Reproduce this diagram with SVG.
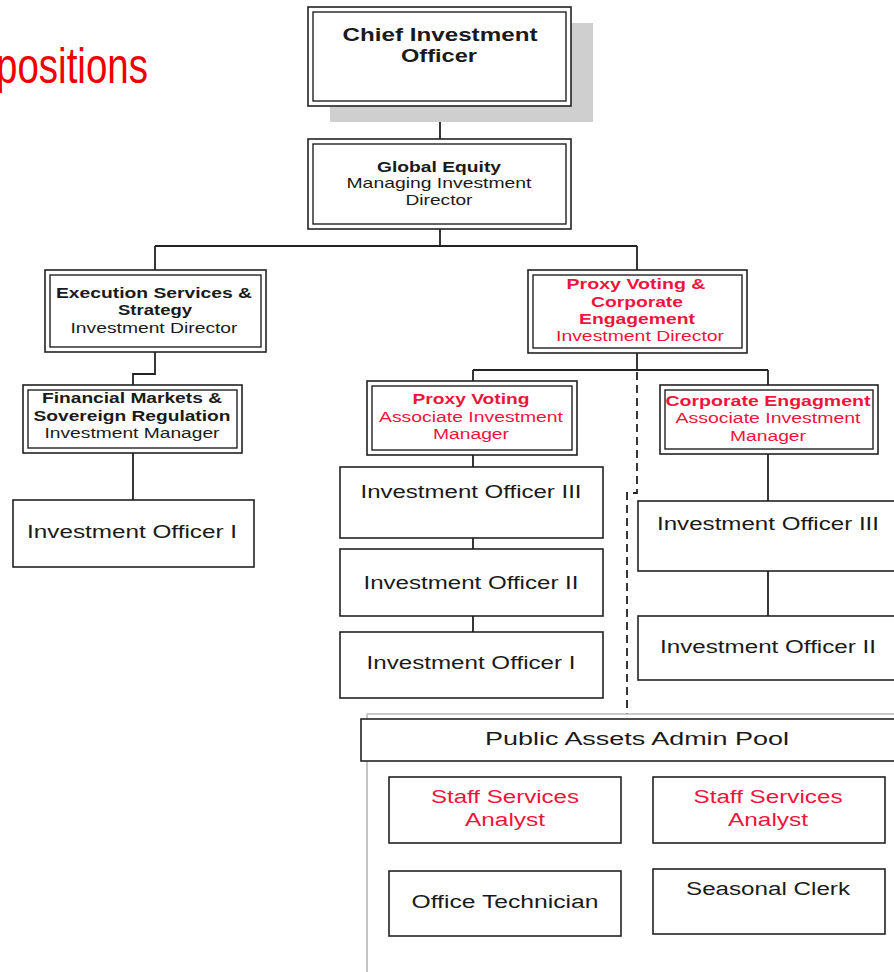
<svg xmlns="http://www.w3.org/2000/svg" width="894" height="972" viewBox="0 0 894 972">
<defs>
<style>
text{font-family:"Liberation Sans",Arial,sans-serif;fill:#1a1a1a;text-anchor:middle}
.b{font-weight:bold}
.r{fill:#f0143c}
.t19{font-size:19px}
.t15{font-size:15px}
.t14{font-size:14px}
.t18{font-size:18px}
.box{fill:#fff;stroke:#222;stroke-width:1.6}
.in{fill:none;stroke:#222;stroke-width:1.4}
.con{fill:none;stroke:#222;stroke-width:1.8}
.dash{fill:none;stroke:#222;stroke-width:1.8;stroke-dasharray:8 5}
.frame{fill:none;stroke:#b8b8b8;stroke-width:1.6}
</style>
</defs>
<rect width="894" height="972" fill="#fff"/>
<text x="-4" y="83" style="font-family:'Liberation Sans Narrow','Liberation Sans',Arial,sans-serif;font-size:50px;text-anchor:start;fill:#ee0000" textLength="152" lengthAdjust="spacingAndGlyphs">positions</text>

<g id="connectors">
<path class="con" d="M440 106V139M440 229V246M155 246H637M155 246V270M637 246V270"/>
<path class="con" d="M155 352V374H133V385M133 453V500"/>
<path class="con" d="M637 353V370M473 370H768M473 370V381M768 370V385"/>
<path class="con" d="M473 455V467M473 538V549M473 616V632"/>
<path class="con" d="M768 454V501M768 571V616"/>
<path class="dash" d="M637 372V493H627V714"/>
</g>

<g id="cio">
<rect x="330" y="23" width="263" height="99" fill="#cfcfcf"/>
<rect class="box" x="308" y="7" width="263" height="99"/>
<rect class="in" x="313" y="12" width="253" height="89"/>
<text class="b t19" x="440" y="41" textLength="195" lengthAdjust="spacingAndGlyphs">Chief Investment</text>
<text class="b t19" x="439" y="62" textLength="76" lengthAdjust="spacingAndGlyphs">Officer</text>
</g>

<g id="global-equity">
<rect class="box" x="308" y="139" width="263" height="90"/>
<rect class="in" x="313" y="144" width="253" height="80"/>
<text class="b t15" x="439" y="172" textLength="124" lengthAdjust="spacingAndGlyphs">Global Equity</text>
<text class="t15" x="439" y="188" textLength="185" lengthAdjust="spacingAndGlyphs">Managing Investment</text>
<text class="t15" x="439" y="205" textLength="67" lengthAdjust="spacingAndGlyphs">Director</text>
</g>

<g id="execution">
<rect class="box" x="45" y="270" width="221" height="82"/>
<rect class="in" x="50" y="275" width="211" height="72"/>
<text class="b t14" x="154" y="298" textLength="196" lengthAdjust="spacingAndGlyphs">Execution Services &amp;</text>
<text class="b t14" x="155" y="315" textLength="74" lengthAdjust="spacingAndGlyphs">Strategy</text>
<text class="t14" x="154" y="333" textLength="167" lengthAdjust="spacingAndGlyphs">Investment Director</text>
</g>

<g id="financial-markets">
<rect class="box" x="23" y="385" width="219" height="68"/>
<rect class="in" x="28" y="390" width="209" height="58"/>
<text class="b t14" x="132" y="403" textLength="180" lengthAdjust="spacingAndGlyphs">Financial Markets &amp;</text>
<text class="b t14" x="132" y="421" textLength="197" lengthAdjust="spacingAndGlyphs">Sovereign Regulation</text>
<text class="t14" x="132" y="438" textLength="175" lengthAdjust="spacingAndGlyphs">Investment Manager</text>
</g>

<g id="io1-left">
<rect class="box" x="13" y="500" width="241" height="67"/>
<text class="t18" x="132" y="538" textLength="210" lengthAdjust="spacingAndGlyphs">Investment Officer I</text>
</g>

<g id="proxy-corporate">
<rect class="box" x="528" y="270" width="219" height="83"/>
<rect class="in" x="533" y="275" width="209" height="73"/>
<text class="b t14 r" x="636" y="289" textLength="139" lengthAdjust="spacingAndGlyphs">Proxy Voting &amp;</text>
<text class="b t14 r" x="637" y="307" textLength="92" lengthAdjust="spacingAndGlyphs">Corporate</text>
<text class="b t14 r" x="637" y="324" textLength="116" lengthAdjust="spacingAndGlyphs">Engagement</text>
<text class="t14 r" x="640" y="341" textLength="168" lengthAdjust="spacingAndGlyphs">Investment Director</text>
</g>

<g id="proxy-voting">
<rect class="box" x="367" y="381" width="210" height="74"/>
<rect class="in" x="372" y="386" width="200" height="64"/>
<text class="b t14 r" x="471" y="404" textLength="117" lengthAdjust="spacingAndGlyphs">Proxy Voting</text>
<text class="t14 r" x="471" y="422" textLength="184" lengthAdjust="spacingAndGlyphs">Associate Investment</text>
<text class="t14 r" x="471" y="439" textLength="76" lengthAdjust="spacingAndGlyphs">Manager</text>
</g>

<g id="corporate-engagement">
<rect class="box" x="660" y="385" width="218" height="69"/>
<rect class="in" x="665" y="390" width="208" height="59"/>
<text class="b t14 r" x="768" y="406" textLength="205" lengthAdjust="spacingAndGlyphs">Corporate Engagment</text>
<text class="t14 r" x="768" y="423" textLength="185" lengthAdjust="spacingAndGlyphs">Associate Investment</text>
<text class="t14 r" x="768" y="441" textLength="76" lengthAdjust="spacingAndGlyphs">Manager</text>
</g>

<g id="io3-pv">
<rect class="box" x="340" y="467" width="263" height="71"/>
<text class="t18" x="471" y="498" textLength="221" lengthAdjust="spacingAndGlyphs">Investment Officer III</text>
</g>
<g id="io2-pv">
<rect class="box" x="340" y="549" width="263" height="67"/>
<text class="t18" x="471" y="589" textLength="215" lengthAdjust="spacingAndGlyphs">Investment Officer II</text>
</g>
<g id="io1-pv">
<rect class="box" x="340" y="632" width="263" height="66"/>
<text class="t18" x="471" y="669" textLength="209" lengthAdjust="spacingAndGlyphs">Investment Officer I</text>
</g>

<g id="io3-ce">
<rect class="box" x="638" y="501" width="270" height="70"/>
<text class="t18" x="768" y="530" textLength="222" lengthAdjust="spacingAndGlyphs">Investment Officer III</text>
</g>
<g id="io2-ce">
<rect class="box" x="638" y="616" width="270" height="64"/>
<text class="t18" x="768" y="653" textLength="216" lengthAdjust="spacingAndGlyphs">Investment Officer II</text>
</g>

<g id="admin-pool">
<path class="frame" d="M367 714H894M367 714V972"/>
<rect class="box" x="361" y="719" width="545" height="42"/>
<text class="t18" x="637" y="745" textLength="304" lengthAdjust="spacingAndGlyphs">Public Assets Admin Pool</text>
</g>

<g id="ssa-left">
<rect class="box" x="389" y="777" width="232" height="66"/>
<text class="t18 r" x="505" y="803" textLength="148" lengthAdjust="spacingAndGlyphs">Staff Services</text>
<text class="t18 r" x="505" y="826" textLength="80" lengthAdjust="spacingAndGlyphs">Analyst</text>
</g>
<g id="ssa-right">
<rect class="box" x="653" y="777" width="232" height="66"/>
<text class="t18 r" x="768" y="803" textLength="149" lengthAdjust="spacingAndGlyphs">Staff Services</text>
<text class="t18 r" x="768" y="826" textLength="80" lengthAdjust="spacingAndGlyphs">Analyst</text>
</g>
<g id="office-technician">
<rect class="box" x="389" y="871" width="232" height="65"/>
<text class="t18" x="505" y="908" textLength="187" lengthAdjust="spacingAndGlyphs">Office Technician</text>
</g>
<g id="seasonal-clerk">
<rect class="box" x="653" y="869" width="232" height="65"/>
<text class="t18" x="768" y="895" textLength="164" lengthAdjust="spacingAndGlyphs">Seasonal Clerk</text>
</g>
</svg>
